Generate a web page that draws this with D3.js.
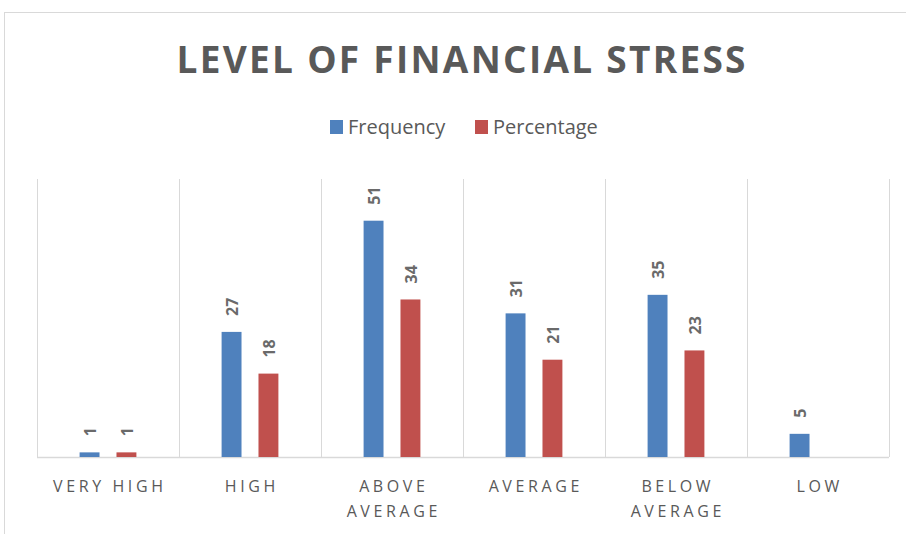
<!DOCTYPE html>
<html>
<head>
<meta charset="utf-8">
<script src="https://cdn.jsdelivr.net/npm/d3@7"></script>
<style>
  body { margin: 0; background: #fff; }
  svg { display: block; font-family: 'Open Sans', 'Noto Sans', sans-serif; }
</style>
</head>
<body>
<svg id="chart" width="906" height="534"></svg>
<script>
// chart data
const categories = [['VERY HIGH'], ['HIGH'], ['ABOVE', 'AVERAGE'], ['AVERAGE'], ['BELOW', 'AVERAGE'], ['LOW']];
const seriesNames = ['Frequency', 'Percentage'];
const frequency = [1, 27, 51, 31, 35, 5];
const percentage = [1, 18, 34, 21, 23, null];
const colors = ['#4f81bd', '#c0504d'];

const svg = d3.select('#chart');
const textCol = '#595959';
const gridCol = '#d9d9d9';

// outer chart frame (cropped on right/bottom)
svg.append('rect')
  .attr('x', 4.5).attr('y', 12.5)
  .attr('width', 960).attr('height', 600)
  .attr('fill', 'none')
  .attr('stroke', gridCol);

const plot = { left: 37, right: 889, top: 179, bottom: 457 };

const keys = categories.map((c, i) => i);
const x0 = d3.scaleBand().domain(keys).range([plot.left, plot.right]);
const cw = x0.bandwidth();
const x1 = d3.scaleBand().domain(seriesNames)
  .range([cw * 0.3, cw * 0.7])
  .paddingInner(0.46);
const y = d3.scaleLinear().domain([0, 60]).range([plot.bottom, plot.top]);

// vertical separators between categories
const edges = keys.map(k => x0(k)).concat([plot.right]);
svg.append('g').selectAll('line')
  .data(edges)
  .join('line')
  .attr('x1', d => d + 0.5).attr('x2', d => d + 0.5)
  .attr('y1', plot.top).attr('y2', plot.bottom)
  .attr('stroke', gridCol);

// baseline
svg.append('line')
  .attr('x1', plot.left).attr('x2', plot.right)
  .attr('y1', plot.bottom + 0.5).attr('y2', plot.bottom + 0.5)
  .attr('stroke', gridCol).attr('stroke-width', 1.5);

// bars
const rows = [];
keys.forEach(i => {
  rows.push({ cat: i, s: 'Frequency', v: frequency[i], c: colors[0] });
  rows.push({ cat: i, s: 'Percentage', v: percentage[i], c: colors[1] });
});
const valid = rows.filter(d => d.v != null);

svg.append('g').selectAll('rect')
  .data(valid)
  .join('rect')
  .attr('x', d => x0(d.cat) + x1(d.s))
  .attr('y', d => y(d.v))
  .attr('width', x1.bandwidth())
  .attr('height', d => plot.bottom - y(d.v))
  .attr('fill', d => d.c);

// value labels (rotated)
svg.append('g').selectAll('text')
  .data(valid)
  .join('text')
  .attr('transform', d => {
    const cx = x0(d.cat) + x1(d.s) + x1.bandwidth() / 2 + 1;
    return `translate(${cx},${y(d.v) - 16}) rotate(-90)`;
  })
  .attr('dy', '0.36em')
  .attr('text-anchor', 'start')
  .attr('fill', '#6a6a6a')
  .style('font-size', '16px')
  .style('font-weight', 'bold')
  .text(d => d.v);

// category labels
const catG = svg.append('g');
categories.forEach((lines, i) => {
  const t = catG.append('text')
    .attr('x', x0(i) + cw / 2)
    .attr('y', 492)
    .attr('text-anchor', 'middle')
    .attr('fill', textCol)
    .style('font-size', '16px')
    .style('letter-spacing', '3.6px');
  lines.forEach((ln, j) => {
    t.append('tspan')
      .attr('x', x0(i) + cw / 2 + 1.8)
      .attr('y', 492 + j * 25)
      .text(ln);
  });
});

// title
svg.append('text')
  .attr('x', 461)
  .attr('y', 73)
  .attr('text-anchor', 'middle')
  .attr('fill', textCol)
  .style('font-size', '37px')
  .style('font-weight', 'bold')
  .attr('textLength', 569)
  .attr('lengthAdjust', 'spacing')
  .text('LEVEL OF FINANCIAL STRESS');

// legend
const legend = svg.append('g');
const legendItems = [
  { name: 'Frequency', color: colors[0], x: 330 },
  { name: 'Percentage', color: colors[1], x: 475 }
];
legendItems.forEach(it => {
  legend.append('rect')
    .attr('x', it.x).attr('y', 120)
    .attr('width', 13).attr('height', 14)
    .attr('fill', it.color);
  legend.append('text')
    .attr('x', it.x + 18).attr('y', 134)
    .attr('fill', textCol)
    .style('font-size', '20px')
    .text(it.name);
});
</script>
</body>
</html>
